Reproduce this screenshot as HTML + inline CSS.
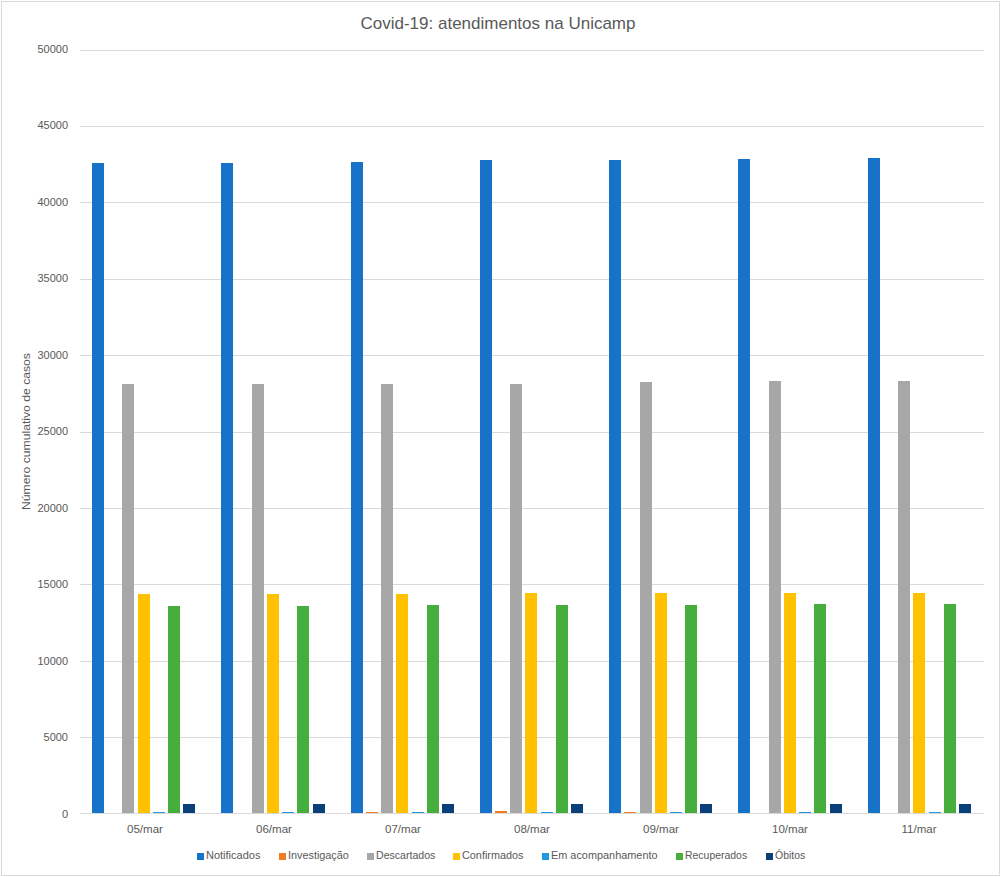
<!DOCTYPE html>
<html><head><meta charset="utf-8"><style>
html,body{margin:0;padding:0;background:#fff;}
body{width:1001px;height:877px;position:relative;overflow:hidden;font-family:"Liberation Sans",sans-serif;color:#595959;}
.frame{position:absolute;left:1px;top:1px;width:997px;height:873px;border:1px solid #d9d9d9;}
.r{position:absolute;}
.title{position:absolute;left:0;width:996px;top:14px;text-align:center;font-size:17px;line-height:20px;white-space:nowrap;}
.yl{position:absolute;left:0;width:68px;text-align:right;font-size:11px;line-height:13px;white-space:nowrap;}
.xl{position:absolute;top:823px;width:80px;text-align:center;transform:scaleX(1.05);font-size:11px;line-height:13px;white-space:nowrap;}
.lg{position:absolute;top:849px;font-size:11px;line-height:13px;white-space:nowrap;transform-origin:0 0;}
.yt{position:absolute;left:26px;top:431px;width:200px;height:13px;margin-left:-100px;margin-top:-6.5px;text-align:center;font-size:11px;line-height:13px;white-space:nowrap;transform:rotate(-90deg) scaleX(1.106);}
</style></head><body>
<div class="frame"></div>
<div class="title">Covid-19: atendimentos na Unicamp</div>
<div class="yt">Número cumulativo de casos</div>
<div class="r" style="left:80px;top:50px;width:904px;height:1px;background:#d9d9d9"></div>
<div class="r" style="left:80px;top:126px;width:904px;height:1px;background:#d9d9d9"></div>
<div class="r" style="left:80px;top:202px;width:904px;height:1px;background:#d9d9d9"></div>
<div class="r" style="left:80px;top:279px;width:904px;height:1px;background:#d9d9d9"></div>
<div class="r" style="left:80px;top:355px;width:904px;height:1px;background:#d9d9d9"></div>
<div class="r" style="left:80px;top:432px;width:904px;height:1px;background:#d9d9d9"></div>
<div class="r" style="left:80px;top:508px;width:904px;height:1px;background:#d9d9d9"></div>
<div class="r" style="left:80px;top:584px;width:904px;height:1px;background:#d9d9d9"></div>
<div class="r" style="left:80px;top:661px;width:904px;height:1px;background:#d9d9d9"></div>
<div class="r" style="left:80px;top:737px;width:904px;height:1px;background:#d9d9d9"></div>
<div class="r" style="left:92px;top:163px;width:12px;height:650px;background:#1773c9"></div>
<div class="r" style="left:122px;top:384px;width:12px;height:429px;background:#a7a7a7"></div>
<div class="r" style="left:138px;top:594px;width:12px;height:219px;background:#ffc100"></div>
<div class="r" style="left:153px;top:812px;width:12px;height:1px;background:#209ade"></div>
<div class="r" style="left:168px;top:606px;width:12px;height:207px;background:#46ae3c"></div>
<div class="r" style="left:183px;top:804px;width:12px;height:9px;background:#0a4079"></div>
<div class="r" style="left:221px;top:163px;width:12px;height:650px;background:#1773c9"></div>
<div class="r" style="left:252px;top:384px;width:12px;height:429px;background:#a7a7a7"></div>
<div class="r" style="left:267px;top:594px;width:12px;height:219px;background:#ffc100"></div>
<div class="r" style="left:282px;top:812px;width:12px;height:1px;background:#209ade"></div>
<div class="r" style="left:297px;top:606px;width:12px;height:207px;background:#46ae3c"></div>
<div class="r" style="left:313px;top:804px;width:12px;height:9px;background:#0a4079"></div>
<div class="r" style="left:351px;top:162px;width:12px;height:651px;background:#1773c9"></div>
<div class="r" style="left:366px;top:812px;width:12px;height:1px;background:#f47a20"></div>
<div class="r" style="left:381px;top:384px;width:12px;height:429px;background:#a7a7a7"></div>
<div class="r" style="left:396px;top:594px;width:12px;height:219px;background:#ffc100"></div>
<div class="r" style="left:412px;top:812px;width:12px;height:1px;background:#209ade"></div>
<div class="r" style="left:427px;top:605px;width:12px;height:208px;background:#46ae3c"></div>
<div class="r" style="left:442px;top:804px;width:12px;height:9px;background:#0a4079"></div>
<div class="r" style="left:480px;top:160px;width:12px;height:653px;background:#1773c9"></div>
<div class="r" style="left:495px;top:811px;width:12px;height:2px;background:#f47a20"></div>
<div class="r" style="left:510px;top:384px;width:12px;height:429px;background:#a7a7a7"></div>
<div class="r" style="left:525px;top:593px;width:12px;height:220px;background:#ffc100"></div>
<div class="r" style="left:541px;top:812px;width:12px;height:1px;background:#209ade"></div>
<div class="r" style="left:556px;top:605px;width:12px;height:208px;background:#46ae3c"></div>
<div class="r" style="left:571px;top:804px;width:12px;height:9px;background:#0a4079"></div>
<div class="r" style="left:609px;top:160px;width:12px;height:653px;background:#1773c9"></div>
<div class="r" style="left:624px;top:812px;width:12px;height:1px;background:#f47a20"></div>
<div class="r" style="left:640px;top:382px;width:12px;height:431px;background:#a7a7a7"></div>
<div class="r" style="left:655px;top:593px;width:12px;height:220px;background:#ffc100"></div>
<div class="r" style="left:670px;top:812px;width:12px;height:1px;background:#209ade"></div>
<div class="r" style="left:685px;top:605px;width:12px;height:208px;background:#46ae3c"></div>
<div class="r" style="left:700px;top:804px;width:12px;height:9px;background:#0a4079"></div>
<div class="r" style="left:738px;top:159px;width:12px;height:654px;background:#1773c9"></div>
<div class="r" style="left:769px;top:381px;width:12px;height:432px;background:#a7a7a7"></div>
<div class="r" style="left:784px;top:593px;width:12px;height:220px;background:#ffc100"></div>
<div class="r" style="left:799px;top:812px;width:12px;height:1px;background:#209ade"></div>
<div class="r" style="left:814px;top:604px;width:12px;height:209px;background:#46ae3c"></div>
<div class="r" style="left:830px;top:804px;width:12px;height:9px;background:#0a4079"></div>
<div class="r" style="left:868px;top:158px;width:12px;height:655px;background:#1773c9"></div>
<div class="r" style="left:898px;top:381px;width:12px;height:432px;background:#a7a7a7"></div>
<div class="r" style="left:913px;top:593px;width:12px;height:220px;background:#ffc100"></div>
<div class="r" style="left:929px;top:812px;width:12px;height:1px;background:#209ade"></div>
<div class="r" style="left:944px;top:604px;width:12px;height:209px;background:#46ae3c"></div>
<div class="r" style="left:959px;top:804px;width:12px;height:9px;background:#0a4079"></div>
<div class="r" style="left:80px;top:813px;width:904px;height:1px;background:#d9d9d9"></div>
<div class="yl" style="top:42.90px">50000</div>
<div class="yl" style="top:119.36px">45000</div>
<div class="yl" style="top:195.82px">40000</div>
<div class="yl" style="top:272.28px">35000</div>
<div class="yl" style="top:348.74px">30000</div>
<div class="yl" style="top:425.20px">25000</div>
<div class="yl" style="top:501.66px">20000</div>
<div class="yl" style="top:578.12px">15000</div>
<div class="yl" style="top:654.58px">10000</div>
<div class="yl" style="top:731.04px">5000</div>
<div class="yl" style="top:807.50px">0</div>
<div class="xl" style="left:104.57px">05/mar</div>
<div class="xl" style="left:233.71px">06/mar</div>
<div class="xl" style="left:362.86px">07/mar</div>
<div class="xl" style="left:492.00px">08/mar</div>
<div class="xl" style="left:621.14px">09/mar</div>
<div class="xl" style="left:750.29px">10/mar</div>
<div class="xl" style="left:879.43px">11/mar</div>
<div class="r" style="left:197px;top:853px;width:7px;height:7px;background:#1773c9"></div>
<div class="lg" style="left:206.0px;transform:scaleX(1.0)">Notificados</div>
<div class="r" style="left:279px;top:853px;width:7px;height:7px;background:#f47a20"></div>
<div class="lg" style="left:287.5px;transform:scaleX(0.985)">Investigação</div>
<div class="r" style="left:367px;top:853px;width:7px;height:7px;background:#a7a7a7"></div>
<div class="lg" style="left:375.5px;transform:scaleX(0.96)">Descartados</div>
<div class="r" style="left:453px;top:853px;width:7px;height:7px;background:#ffc100"></div>
<div class="lg" style="left:462.0px;transform:scaleX(0.985)">Confirmados</div>
<div class="r" style="left:542px;top:853px;width:7px;height:7px;background:#209ade"></div>
<div class="lg" style="left:550.5px;transform:scaleX(0.99)">Em acompanhamento</div>
<div class="r" style="left:676px;top:853px;width:7px;height:7px;background:#46ae3c"></div>
<div class="lg" style="left:685.1px;transform:scaleX(0.95)">Recuperados</div>
<div class="r" style="left:766px;top:853px;width:7px;height:7px;background:#0a4079"></div>
<div class="lg" style="left:775.1px;transform:scaleX(0.95)">Óbitos</div>
</body></html>
